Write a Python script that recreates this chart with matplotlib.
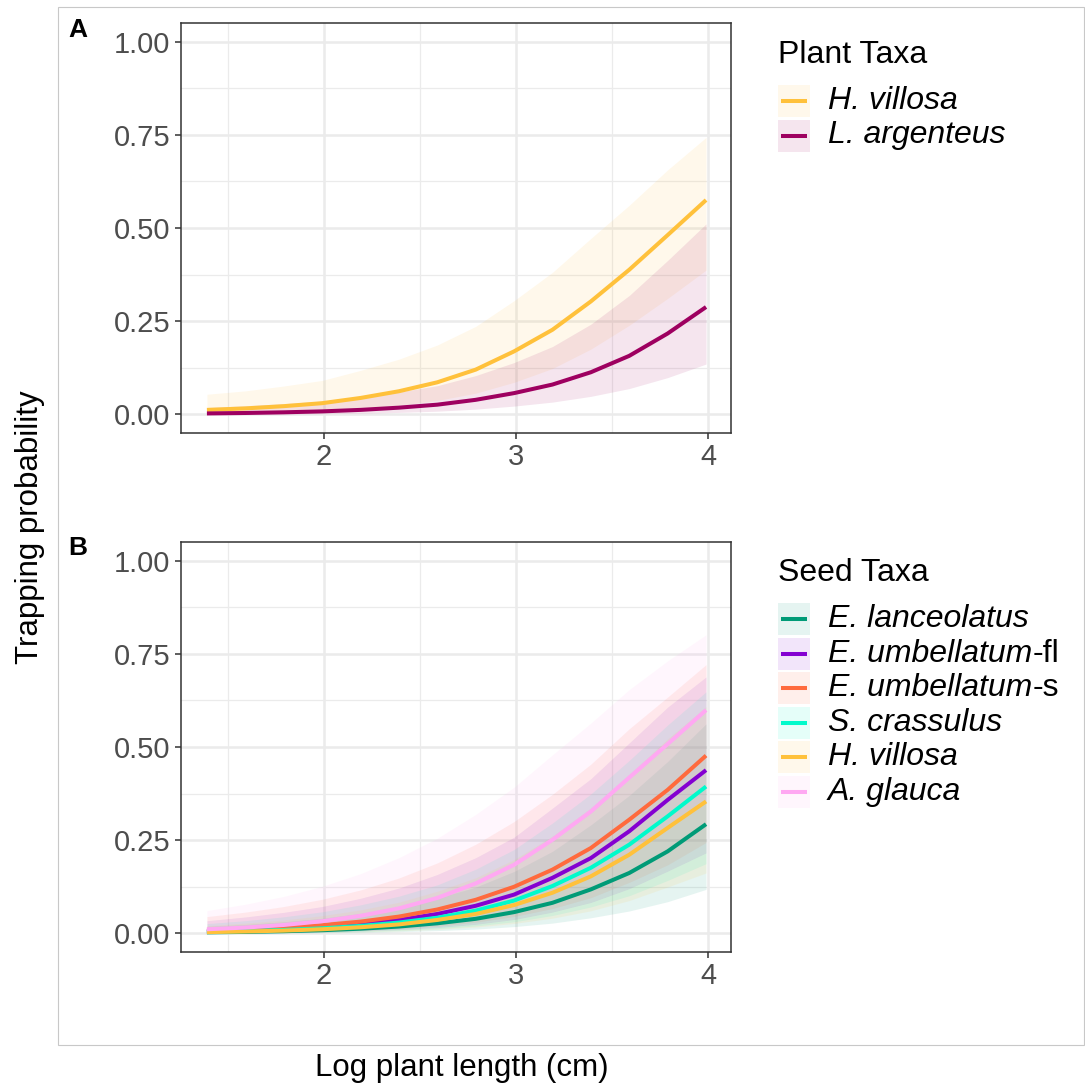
import matplotlib
matplotlib.use("Agg")
import matplotlib.pyplot as plt
from matplotlib.patches import Rectangle
from matplotlib.lines import Line2D

plt.rcParams['font.family'] = ['Liberation Sans', 'DejaVu Sans']

W, H = 1085, 1086
DPI = 100

# Log plant length at which the fitted curves are evaluated
log_length = [1.39, 1.59, 1.79, 1.99, 2.19, 2.39, 2.59, 2.79, 2.99, 3.19, 3.39, 3.59, 3.79, 3.99]

# Panel A: plant taxa (fit, lower and upper CI)
plant_taxa = ['H. villosa', 'L. argenteus']
plant_suffix = ['', '']
plant_colors = ['#FFC13B', '#9E0060']
hv_fit = [0.012, 0.016, 0.022, 0.030, 0.044, 0.062, 0.086, 0.120, 0.169, 0.227, 0.303, 0.388, 0.481, 0.575]
hv_lo = [0.0026, 0.0039, 0.0061, 0.0094, 0.0155, 0.0244, 0.0372, 0.0567, 0.086, 0.123, 0.175, 0.239, 0.311, 0.387]
hv_hi = [0.054, 0.063, 0.076, 0.091, 0.118, 0.148, 0.186, 0.236, 0.305, 0.381, 0.472, 0.561, 0.656, 0.743]
la_fit = [0.0025, 0.0037, 0.0055, 0.008, 0.012, 0.018, 0.026, 0.039, 0.057, 0.080, 0.113, 0.157, 0.217, 0.288]
la_lo = [0.00034, 0.00058, 0.00103, 0.00176, 0.0030, 0.0052, 0.0085, 0.0140, 0.0222, 0.0329, 0.0483, 0.0692, 0.0986, 0.135]
la_hi = [0.0182, 0.0231, 0.0288, 0.0356, 0.046, 0.060, 0.077, 0.104, 0.139, 0.182, 0.242, 0.319, 0.413, 0.511]

# Panel B: seed taxa (species name italic, -fl / -s suffix upright)
seed_taxa = ['E. lanceolatus', 'E. umbellatum', 'E. umbellatum', 'S. crassulus', 'H. villosa', 'A. glauca']
seed_suffix = ['', '-fl', '-s', '', '', '']
seed_colors = ['#009B77', '#8400D1', '#FF6A3D', '#00FACB', '#FFC13B', '#FFA8F2']
el_fit = [0.0027, 0.0039, 0.0058, 0.0085, 0.0125, 0.0183, 0.027, 0.039, 0.057, 0.082, 0.118, 0.162, 0.220, 0.293]
el_lo = [0.00039, 0.00063, 0.00106, 0.00175, 0.00284, 0.0046, 0.0074, 0.0115, 0.0181, 0.0275, 0.0418, 0.060, 0.085, 0.118]
el_hi = [0.0185, 0.0236, 0.0309, 0.0403, 0.0532, 0.0703, 0.094, 0.124, 0.166, 0.220, 0.291, 0.370, 0.461, 0.562]
euf_fit = [0.0055, 0.0081, 0.0118, 0.017, 0.025, 0.036, 0.052, 0.074, 0.104, 0.149, 0.202, 0.274, 0.358, 0.438]
euf_lo = [0.00087, 0.00145, 0.0024, 0.0038, 0.0063, 0.0100, 0.0158, 0.0244, 0.0372, 0.0572, 0.0829, 0.120, 0.167, 0.216]
euf_hi = [0.0340, 0.0440, 0.0564, 0.0720, 0.0941, 0.1215, 0.158, 0.203, 0.258, 0.336, 0.415, 0.511, 0.607, 0.688]
eus_fit = [0.0073, 0.0106, 0.0153, 0.022, 0.0315, 0.045, 0.064, 0.090, 0.125, 0.171, 0.229, 0.305, 0.385, 0.477]
eus_lo = [0.00116, 0.0019, 0.0031, 0.0050, 0.0080, 0.0125, 0.0195, 0.030, 0.0454, 0.0667, 0.0959, 0.137, 0.184, 0.244]
eus_hi = [0.0450, 0.0570, 0.0720, 0.0914, 0.1165, 0.1485, 0.189, 0.239, 0.300, 0.373, 0.454, 0.549, 0.634, 0.721]
sc_fit = [0.0042, 0.0062, 0.0092, 0.0135, 0.020, 0.029, 0.042, 0.061, 0.088, 0.127, 0.176, 0.238, 0.314, 0.394]
sc_lo = [0.00066, 0.0011, 0.00185, 0.0030, 0.0050, 0.0080, 0.0127, 0.0200, 0.0311, 0.048, 0.0708, 0.101, 0.142, 0.187]
sc_hi = [0.0261, 0.0340, 0.0444, 0.0578, 0.0764, 0.0997, 0.130, 0.172, 0.225, 0.296, 0.374, 0.464, 0.559, 0.648]
hvs_fit = [0.0033, 0.005, 0.0074, 0.011, 0.0163, 0.024, 0.036, 0.052, 0.076, 0.109, 0.153, 0.211, 0.283, 0.354]
hvs_lo = [0.00052, 0.00089, 0.0015, 0.0025, 0.0041, 0.0066, 0.0108, 0.0169, 0.0266, 0.0407, 0.0606, 0.088, 0.1245, 0.162]
hvs_hi = [0.0206, 0.0276, 0.0359, 0.0475, 0.063, 0.0835, 0.113, 0.149, 0.198, 0.261, 0.336, 0.426, 0.522, 0.608]
ag_fit = [0.011, 0.0155, 0.0225, 0.0325, 0.047, 0.067, 0.095, 0.134, 0.184, 0.251, 0.327, 0.418, 0.508, 0.599]
ag_lo = [0.0018, 0.0029, 0.0048, 0.0078, 0.0126, 0.020, 0.031, 0.048, 0.073, 0.109, 0.154, 0.214, 0.281, 0.357]
ag_hi = [0.061, 0.078, 0.099, 0.126, 0.160, 0.203, 0.255, 0.319, 0.392, 0.479, 0.564, 0.654, 0.731, 0.801]

x_ticks = [2, 3, 4]
y_ticks = [0.0, 0.25, 0.5, 0.75, 1.0]
y_tick_labels = ['0.00', '0.25', '0.50', '0.75', '1.00']

LINE_W = 2.9
RIBBON_ALPHA = 0.1
TEXT_SIZE = 23


def fx(px):
    return px / W


def fy(px):
    return 1 - px / H


def style_axes(ax):
    ax.set_xlim(1.255, 4.12)
    ax.set_ylim(-0.05, 1.05)
    ax.set_xticks(x_ticks)
    ax.set_xticklabels([str(t) for t in x_ticks])
    ax.set_yticks(y_ticks)
    ax.set_yticklabels(y_tick_labels)
    ax.set_xticks([1.5, 2.5, 3.5], minor=True)
    ax.set_yticks([0.125, 0.375, 0.625, 0.875], minor=True)
    ax.grid(which='major', color='#EBEBEB', lw=1.8, zorder=0)
    ax.grid(which='minor', color='#EBEBEB', lw=0.9, zorder=0)
    ax.set_axisbelow(True)
    ax.tick_params(which='major', direction='out', length=4.3, width=1.1, color='#333333',
                   labelsize=21, labelcolor='#4D4D4D', pad=3.2)
    ax.tick_params(which='minor', length=0)
    for s in ax.spines.values():
        s.set_color('#333333')
        s.set_linewidth(1.1)


def draw_panel(ax, fits, los, his, colors):
    for lo, hi, c in zip(los, his, colors):
        ax.fill_between(log_length, lo, hi, color=c, alpha=RIBBON_ALPHA, lw=0, zorder=2)
    for fit, c in zip(fits, colors):
        ax.plot(log_length, fit, color=c, lw=LINE_W, solid_capstyle='butt', zorder=3)


def draw_legend(fig, title, title_y, labels, suffixes, colors, first_y, step):
    renderer = fig.canvas.get_renderer()
    fig.text(fx(778), fy(title_y), title, fontsize=TEXT_SIZE, ha='left', va='center')
    for i, (lab, suf, c) in enumerate(zip(labels, suffixes, colors)):
        cy = first_y + i * step
        fig.add_artist(Rectangle((fx(778), fy(cy + 16)), 32 / W, 32 / H, transform=fig.transFigure,
                                 facecolor=c, alpha=RIBBON_ALPHA, lw=0))
        fig.add_artist(Line2D([fx(781), fx(807)], [fy(cy), fy(cy)], color=c, lw=LINE_W,
                              transform=fig.transFigure, solid_capstyle='butt'))
        t = fig.text(fx(828), fy(cy + 8), lab, fontsize=TEXT_SIZE, ha='left', va='baseline',
                     style='italic')
        if suf:
            # upright suffix placed right after the italic name
            x_end = t.get_window_extent(renderer=renderer).x1
            fig.text(x_end / W, fy(cy + 8), suf, fontsize=TEXT_SIZE, ha='left', va='baseline')


fig = plt.figure(figsize=(W / DPI, H / DPI), dpi=DPI)

# light frame around both panels
fig.add_artist(Rectangle((fx(58), fy(1045)), (1084 - 58) / W, (1045 - 7) / H,
                         transform=fig.transFigure, fill=False, ec='#C8C8C8', lw=0.8))

ax_a = fig.add_axes([fx(181), fy(433), 550 / W, 410 / H])
ax_b = fig.add_axes([fx(181), fy(952), 550 / W, 410 / H])

style_axes(ax_a)
style_axes(ax_b)

draw_panel(ax_a, [hv_fit, la_fit], [hv_lo, la_lo], [hv_hi, la_hi], plant_colors)
draw_panel(ax_b,
           [el_fit, euf_fit, eus_fit, sc_fit, hvs_fit, ag_fit],
           [el_lo, euf_lo, eus_lo, sc_lo, hvs_lo, ag_lo],
           [el_hi, euf_hi, eus_hi, sc_hi, hvs_hi, ag_hi],
           seed_colors)

fig.text(fx(78), fy(30), 'A', fontsize=19, fontweight='bold', ha='center', va='center')
fig.text(fx(78), fy(548), 'B', fontsize=19, fontweight='bold', ha='center', va='center')

fig.text(fx(30), fy(527), 'Trapping probability', fontsize=22.5, rotation=90, ha='center', va='center')
fig.text(fx(462), fy(1068), 'Log plant length (cm)', fontsize=22.5, ha='center', va='center')

draw_legend(fig, 'Plant Taxa', 55, plant_taxa, plant_suffix, plant_colors, 101, 34.5)
draw_legend(fig, 'Seed Taxa', 573, seed_taxa, seed_suffix, seed_colors, 619, 34.6)

fig.savefig('out.png', dpi=DPI)
